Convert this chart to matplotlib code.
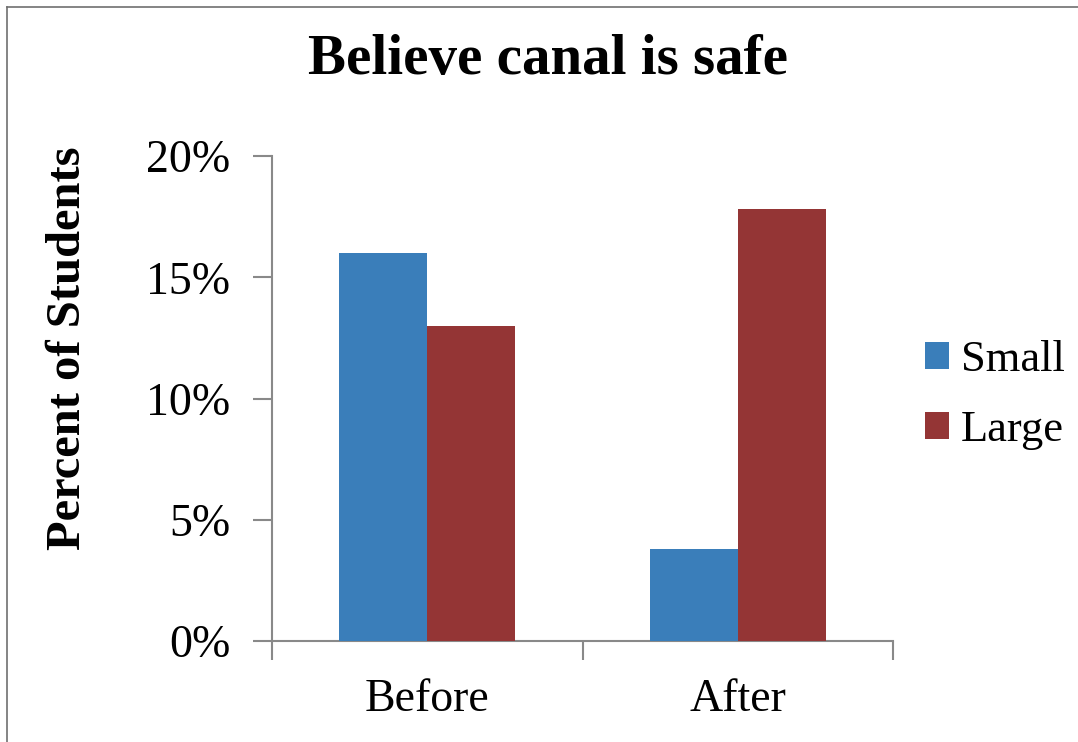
import matplotlib
matplotlib.use("Agg")
import matplotlib.pyplot as plt
import numpy as np
from matplotlib.lines import Line2D

categories = ["Before", "After"]
series_names = ["Small", "Large"]
small = [0.160, 0.038]
large = [0.130, 0.178]
yticks = [0, 0.05, 0.10, 0.15, 0.20]
ytick_labels = ["0%", "5%", "10%", "15%", "20%"]

colors = ["#3A7EBA", "#943535"]
plt.rcParams['font.family'] = ['Liberation Serif', 'DejaVu Serif']

fig = plt.figure(figsize=(10.78, 7.42), dpi=100)
ax = fig.add_axes([272/1078, 1-641/742, (893-272)/1078, (641-156)/742])

x = np.arange(len(categories))
w = 0.283
ax.bar(x - w/2, small, width=w, color=colors[0], label=series_names[0], zorder=3)
ax.bar(x + w/2, large, width=w, color=colors[1], label=series_names[1], zorder=3)

ax.set_xlim(-0.5, 1.5)
ax.set_ylim(0, 0.20)
ax.set_yticks(yticks)
ax.set_yticklabels(ytick_labels, fontsize=33)
ax.set_xticks([-0.5, 0.5, 1.5])
ax.set_xticklabels([])
ax.set_xticks(x, minor=True)
ax.set_xticklabels(categories, minor=True, fontsize=33)
ax.tick_params(axis='x', which='minor', length=0, pad=27)
ax.tick_params(axis='x', which='major', length=14, width=1.5, color='#898989', direction='out')
ax.tick_params(axis='y', length=14, width=1.5, color='#898989', direction='out', pad=16)

for s in ['top', 'right']:
    ax.spines[s].set_visible(False)
for s in ['left', 'bottom']:
    ax.spines[s].set_color('#898989')
    ax.spines[s].set_linewidth(1.5)

fig.text(548/1078, 1-60/742, "Believe canal is safe", ha='center', va='center',
         fontsize=41, fontweight='bold')
fig.text(68/1078, 1-348/742, "Percent of Students", ha='center', va='center',
         rotation=90, fontsize=35, fontweight='bold')

leg = fig.legend(loc='center left', bbox_to_anchor=(925/1078, 1-395/742), frameon=False,
                 fontsize=32, handlelength=0.55, handleheight=0.55, handletextpad=0.25,
                 labelspacing=0.68, borderaxespad=0, borderpad=0)

# outer border (left and top visible)
fig.add_artist(Line2D([7/1078, 7/1078], [0, 1-7/742], transform=fig.transFigure, color='#707070', lw=1.2))
fig.add_artist(Line2D([7/1078, 1], [1-7/742, 1-7/742], transform=fig.transFigure, color='#707070', lw=1.2))

fig.savefig("out.png", dpi=100)
